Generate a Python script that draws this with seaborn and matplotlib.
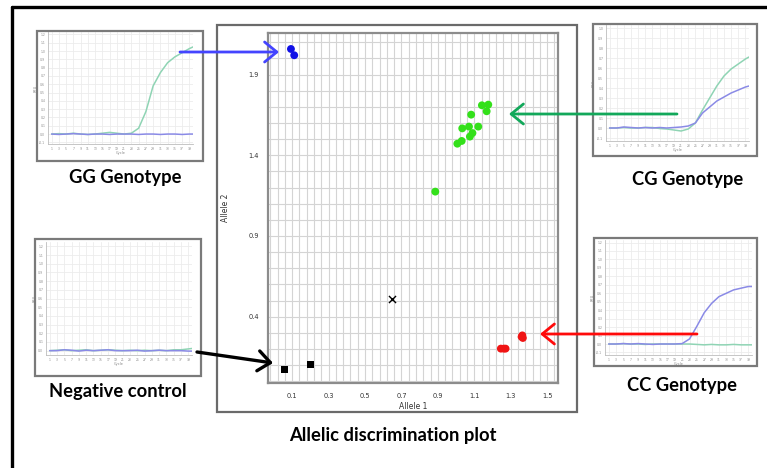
import numpy as np
import pandas as pd
import matplotlib
matplotlib.use("Agg")
import matplotlib.pyplot as plt
import seaborn as sns
from matplotlib.patches import Rectangle, FancyArrowPatch
from matplotlib.lines import Line2D
from matplotlib.ticker import MultipleLocator, FixedLocator

# ---- allelic discrimination data (Allele 1 vs Allele 2 RFU) ----
gg_allele1 = [0.093, 0.111]
gg_allele2 = [2.059, 2.020]
cg_allele1 = [0.886, 1.007, 1.031, 1.034, 1.071, 1.076, 1.090, 1.083, 1.122, 1.142, 1.177, 1.168]
cg_allele2 = [1.175, 1.472, 1.489, 1.567, 1.578, 1.516, 1.538, 1.652, 1.578, 1.710, 1.714, 1.673]
cc_allele1 = [1.246, 1.272, 1.262, 1.364, 1.367, 1.360]
cc_allele2 = [0.202, 0.202, 0.202, 0.284, 0.268, 0.275]
ntc_allele1 = [0.060, 0.199]
ntc_allele2 = [0.074, 0.102]
unk_allele1 = [0.648]
unk_allele2 = [0.512]

x_tick_labels = [0.1, 0.3, 0.5, 0.7, 0.9, 1.1, 1.3, 1.5]
y_tick_labels = [0.4, 0.9, 1.4, 1.9]

# ---- amplification curves (RFU per cycle) ----
cycles = [1, 3, 5, 7, 9, 11, 13, 15, 17, 19, 21, 23, 25, 27, 29, 31, 33, 35, 37, 39, 40]

gg_fam = [0.00, 0.005, 0.00, 0.01, 0.00, -0.005, 0.00, 0.01, 0.02, 0.01, 0.00,
          0.01, 0.07, 0.27, 0.58, 0.74, 0.86, 0.93, 0.98, 1.03, 1.05]
gg_hex = [0.00, -0.005, 0.00, 0.005, 0.00, -0.005, 0.00, 0.00, -0.005, 0.00, 0.00,
          0.00, -0.005, 0.00, 0.00, -0.005, 0.00, 0.00, -0.005, 0.00, 0.00]

cg_fam = [0.00, 0.00, 0.005, 0.00, 0.00, 0.005, 0.005, -0.005, -0.01, -0.02, -0.03,
          -0.01, 0.05, 0.18, 0.30, 0.42, 0.52, 0.59, 0.64, 0.69, 0.71]
cg_hex = [0.00, 0.00, 0.01, 0.005, 0.00, 0.005, 0.00, 0.005, 0.00, 0.005, 0.01,
          0.02, 0.05, 0.15, 0.21, 0.27, 0.31, 0.35, 0.38, 0.41, 0.42]

ntc_fam = [0.00, 0.005, 0.01, 0.00, 0.005, 0.01, 0.00, 0.005, 0.01, 0.005, 0.00,
           0.005, 0.00, 0.005, 0.00, 0.005, 0.00, 0.01, 0.01, 0.02, 0.025]
ntc_hex = [0.00, 0.00, 0.01, 0.005, -0.005, 0.005, 0.00, 0.005, 0.01, 0.00, 0.00,
           0.00, 0.005, -0.005, 0.00, 0.005, 0.00, 0.00, 0.00, -0.005, -0.005]

cc_fam = [0.00, 0.00, 0.005, 0.00, 0.00, -0.005, 0.00, 0.00, 0.00, 0.00, 0.00,
          0.00, -0.005, -0.01, -0.005, -0.01, -0.01, -0.005, -0.01, -0.01, -0.01]
cc_hex = [0.00, 0.00, 0.005, 0.00, 0.005, 0.00, -0.005, 0.00, 0.00, 0.00, 0.005,
          0.06, 0.21, 0.37, 0.48, 0.56, 0.60, 0.64, 0.66, 0.68, 0.68]

sns.set_style("white")
plt.rcParams["font.family"] = ["DejaVu Sans"]

W, H = 767, 468
fig = plt.figure(figsize=(W / 100, H / 100), dpi=100)
fig.patch.set_facecolor("white")


def frac_rect(x0, y0, x1, y1):
    return [x0 / W, 1 - y1 / H, (x1 - x0) / W, (y1 - y0) / H]


def frac_pt(x, y):
    return (x / W, 1 - y / H)


def box(x0, y0, x1, y1, color="#7a7a7a", lw=1.6):
    fig.add_artist(Rectangle((x0 / W, 1 - y1 / H), (x1 - x0) / W, (y1 - y0) / H,
                             transform=fig.transFigure, fill=False,
                             edgecolor=color, linewidth=lw))


# outer frame (top and left edges)
fig.add_artist(Line2D([12 / W, 12 / W], [0, 1 - 7 / H], transform=fig.transFigure,
                      color="black", linewidth=2.4))
fig.add_artist(Line2D([12 / W, 1], [1 - 7 / H, 1 - 7 / H], transform=fig.transFigure,
                      color="black", linewidth=2.4))

# ---- main allelic discrimination scatter ----
box(217, 25, 577, 412, color="#6a6a6a", lw=1.6)
ax = fig.add_axes(frac_rect(268, 33, 558, 383))
ax.set_xlim(-0.033, 1.56)
ax.set_ylim(-0.011, 2.158)
ax.xaxis.set_major_locator(FixedLocator(x_tick_labels))
ax.xaxis.set_minor_locator(MultipleLocator(0.04, offset=0.02))
ax.yaxis.set_major_locator(FixedLocator(y_tick_labels))
ax.yaxis.set_minor_locator(MultipleLocator(0.1))
ax.set_xticklabels([f"{v:.1f}" for v in x_tick_labels])
ax.set_yticklabels([f"{v:.1f}" for v in y_tick_labels])
ax.grid(True, which="both", color="#d4d4d4", linewidth=0.8)
ax.set_axisbelow(True)
for s in ax.spines.values():
    s.set_color("#8c8c8c")
    s.set_linewidth(1.6)
ax.tick_params(which="both", direction="out", length=2.5, width=0.6, color="#777777",
               labelsize=4.8, labelcolor="#333333", pad=4)
ax.tick_params(axis="x", pad=5)
ax.set_xlabel("Allele 1", fontsize=5.5, color="#333333", labelpad=2)
ax.set_ylabel("Allele 2", fontsize=5.5, color="#333333", labelpad=13)

sns.scatterplot(x=gg_allele1, y=gg_allele2, ax=ax, color="#1010e6", s=32,
                edgecolor="none", zorder=3)
sns.scatterplot(x=cg_allele1, y=cg_allele2, ax=ax, color="#33e01a", s=32,
                edgecolor="none", zorder=3)
sns.scatterplot(x=cc_allele1, y=cc_allele2, ax=ax, color="#f01414", s=32,
                edgecolor="none", zorder=3)
sns.scatterplot(x=ntc_allele1, y=ntc_allele2, ax=ax, color="black", marker="s",
                s=26, edgecolor="none", zorder=3)
ax.scatter(unk_allele1, unk_allele2, marker="x", color="black", s=26, linewidths=1.0,
           zorder=3)


# ---- amplification plot insets ----
def amp_inset(box_px, plot_px, fam, hex_, ylim, yticks):
    box(*box_px)
    a = fig.add_axes(frac_rect(*plot_px))
    df = pd.DataFrame({"Cycle": cycles * 2,
                       "RFU": fam + hex_,
                       "dye": ["FAM"] * len(cycles) + ["HEX"] * len(cycles)})
    sns.lineplot(data=df, x="Cycle", y="RFU", hue="dye",
                 palette={"FAM": "#8fd4b4", "HEX": "#8a8ae6"},
                 linewidth=1.1, ax=a, legend=False)
    a.set_xlim(0, 40)
    a.set_ylim(*ylim)
    a.set_xticks(range(1, 40, 2))
    a.set_yticks(yticks)
    a.set_xticklabels([str(c) for c in range(1, 40, 2)])
    a.set_yticklabels([f"{v:.1f}" for v in yticks])
    a.grid(True, color="#ececec", linewidth=0.6)
    for s in a.spines.values():
        s.set_visible(False)
    a.spines["left"].set_visible(True)
    a.spines["bottom"].set_visible(True)
    a.spines["left"].set_color("#bdbdbd")
    a.spines["bottom"].set_color("#bdbdbd")
    a.spines["left"].set_linewidth(0.6)
    a.spines["bottom"].set_linewidth(0.6)
    a.tick_params(length=1, width=0.4, color="#aaaaaa", labelsize=2.2,
                  labelcolor="#888888", pad=1)
    a.set_xlabel("Cycle", fontsize=2.6, color="#888888", labelpad=0.5)
    a.set_ylabel("RFU", fontsize=2.6, color="#888888", labelpad=1)
    return a


yt_full = [round(-0.1 + 0.1 * i, 1) for i in range(14)]
amp_inset((37, 31, 203, 161), (48, 32, 193, 144), gg_fam, gg_hex,
          (-0.12, 1.23), yt_full)
amp_inset((593, 24, 757, 156), (606, 25, 749, 141), cg_fam, cg_hex,
          (-0.13, 1.03), [round(-0.1 + 0.1 * i, 1) for i in range(12)])
amp_inset((35, 239, 201, 376), (46, 242, 192, 355), ntc_fam, ntc_hex,
          (-0.05, 1.25), [round(0.1 * i, 1) for i in range(13)])
amp_inset((594, 238, 757, 366), (605, 240, 752, 355), cc_fam, cc_hex,
          (-0.13, 1.23), yt_full)

# ---- labels ----
lab = dict(fontsize=13.2, fontweight="bold", family=["Lato", "DejaVu Sans"],
           ha="center", va="center", color="black")
fig.text(*frac_pt(125, 177), "GG Genotype", **lab)
fig.text(*frac_pt(688, 180), "CG Genotype", **lab)
fig.text(*frac_pt(118, 392), "Negative control", **lab)
fig.text(*frac_pt(682, 386), "CC Genotype", **lab)
fig.text(*frac_pt(393, 435), "Allelic discrimination plot", **lab)


# ---- arrows linking curves to clusters ----
def arrow(p0, p1, color, lw=2.0):
    fig.add_artist(FancyArrowPatch(frac_pt(*p0), frac_pt(*p1), transform=fig.transFigure,
                                   arrowstyle="->,head_length=0.55,head_width=0.45",
                                   mutation_scale=16, color=color, linewidth=lw,
                                   shrinkA=0, shrinkB=0, zorder=10))


arrow((180, 52), (279, 52), "#4444ff")
arrow((677, 114), (509, 114), "#12a85a")
arrow((697, 334), (540, 334), "#ff0a0a")
arrow((197, 352), (273, 363), "black", lw=2.4)

fig.savefig("out.png", dpi=100, facecolor="white")
